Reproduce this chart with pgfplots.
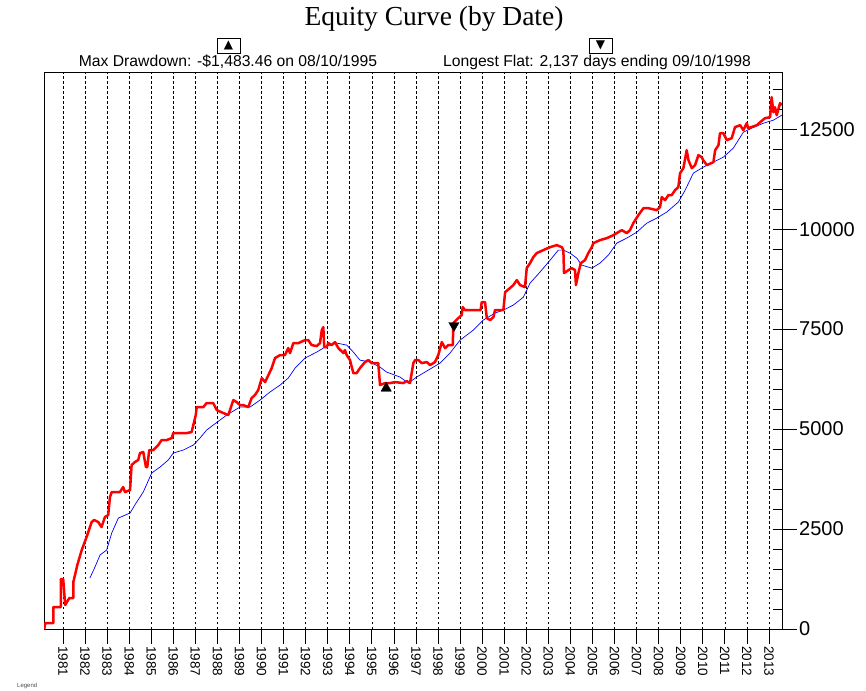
\documentclass[border=0pt]{standalone}
\usepackage{pgfplots}
\pgfplotsset{compat=1.18}
\usepackage{fontspec}
\setmainfont{Liberation Sans}
\newfontfamily\timesfont{Liberation Serif}
\newfontfamily\dejavu{DejaVu Sans}
\begin{document}
\begin{tikzpicture}[x=1pt,y=1pt]
\useasboundingbox (0,0) rectangle (866,690);
\begin{axis}[
  at={(44pt,61pt)}, anchor=south west,
  scale only axis, width=738pt, height=557pt,
  xmin=1980.14, xmax=2013.59, ymin=0, ymax=13930,
  axis line style={black, line width=0.9pt},
  xtick={1981,...,2013},
  xtick pos=bottom,
  x tick label style={rotate=-90, anchor=west, font=\fontsize{13.5}{13.5}\selectfont, inner sep=2pt},
  xticklabel={\pgfmathprintnumber[fixed,precision=0,set thousands separator={}]{\tick}},
  tick align=outside,
  major tick length=15pt,
  tick style={black, line width=0.7pt},
  xmajorgrids,
  major grid style={black, dashed, line width=0.6pt, dash pattern=on 2.5pt off 2.5pt},
  ytick={0,2500,...,12500},
  scaled y ticks=false,
  ytick pos=right,
  yticklabel pos=right,
  y tick label style={font=\fontsize{20}{20}\selectfont, inner sep=2pt},
  yticklabel={\pgfmathprintnumber[fixed,precision=0,set thousands separator={}]{\tick}},
  extra y ticks={0,500,...,13500},
  extra y tick labels={},
  extra y tick style={tick align=inside, major tick length=9pt, grid=none},
  /pgf/number format/assume math mode=true,
  clip=true,
]
% Blue: moving average
\addplot[blue, line width=0.7pt] coordinates {
(1982.22,1275)(1982.45,1550)(1982.68,1850)(1982.98,1975)(1983.21,2400)(1983.51,2775)
(1984.04,2900)(1984.34,3175)(1984.64,3425)(1985.02,3900)(1985.40,4050)(1985.77,4225)
(1986.00,4400)(1986.45,4475)(1986.91,4600)(1987.21,4775)(1987.51,4975)(1987.81,5100)
(1988.42,5350)(1989.02,5550)(1989.48,5550)(1989.93,5725)(1990.38,5925)(1990.84,6100)
(1991.21,6275)(1991.52,6525)(1991.97,6775)(1992.50,6925)(1992.95,7075)(1993.41,7150)
(1993.86,7100)(1994.16,6925)(1994.46,6725)(1994.92,6675)(1995.37,6550)(1995.67,6425)
(1996.28,6300)(1996.65,6150)(1997.03,6300)(1997.56,6475)(1998.09,6650)(1998.54,6900)
(1999.00,7225)(1999.60,7475)(2000.05,7725)(2000.58,7900)(2000.96,7975)(2001.41,8100)
(2001.87,8300)(2002.17,8650)(2002.62,8925)(2003.08,9225)(2003.45,9475)(2003.68,9475)
(2003.98,9400)(2004.29,9275)(2004.51,9100)(2004.97,9025)(2005.34,9150)(2005.72,9350)
(2006.10,9650)(2006.55,9775)(2007.01,9925)(2007.46,10150)(2007.91,10275)(2008.36,10425)
(2008.89,10675)(2009.20,10975)(2009.57,11400)(2010.02,11550)(2010.48,11675)(2010.93,11800)
(2011.38,12025)(2011.84,12425)(2012.22,12525)(2012.75,12650)(2013.20,12725)(2013.58,12850)
};
% Red: equity curve
\addplot[red, line width=2.5pt, line join=round] coordinates {
(1980.15,0)(1980.20,150)(1980.56,150)(1980.56,550)(1980.90,550)(1980.90,1250)
(1981.01,1250)(1981.10,600)(1981.29,775)(1981.47,775)(1981.47,1175)(1981.65,1600)
(1981.85,1975)(1982.07,2300)(1982.30,2675)(1982.41,2725)(1982.60,2675)(1982.75,2550)
(1982.90,2800)(1983.05,2850)(1983.13,3300)(1983.21,3425)(1983.58,3425)(1983.73,3550)
(1983.81,3425)(1984.04,3475)(1984.11,4100)(1984.26,4175)(1984.41,4225)(1984.49,4400)
(1984.64,4425)(1984.76,4050)(1984.82,4050)(1984.91,4475)(1985.09,4475)(1985.32,4600)
(1985.47,4725)(1985.70,4725)(1985.93,4775)(1986.00,4900)(1986.30,4900)(1986.61,4900)
(1986.83,4925)(1987.02,5350)(1987.06,5550)(1987.36,5550)(1987.51,5650)(1987.81,5650)
(1987.97,5475)(1988.27,5400)(1988.49,5350)(1988.57,5475)(1988.72,5725)(1988.87,5675)
(1989.02,5600)(1989.17,5600)(1989.40,5550)(1989.55,5775)(1989.70,5850)(1989.85,5975)
(1990.01,6275)(1990.16,6175)(1990.31,6350)(1990.46,6525)(1990.61,6775)(1990.84,6850)
(1991.06,6850)(1991.21,7025)(1991.29,6900)(1991.44,7150)(1991.67,7150)(1991.97,7225)
(1992.12,7225)(1992.27,7100)(1992.50,7075)(1992.65,7150)(1992.73,7475)(1992.80,7550)
(1992.84,7050)(1992.95,7050)(1993.03,7150)(1993.18,7100)(1993.33,7175)(1993.48,7025)
(1993.71,6900)(1993.78,6975)(1993.86,6850)(1994.01,6725)(1994.16,6400)(1994.31,6400)
(1994.46,6525)(1994.69,6675)(1994.84,6725)(1994.99,6650)(1995.29,6650)(1995.37,6100)
(1995.60,6150)(1995.82,6150)(1996.05,6175)(1996.43,6150)(1996.58,6200)(1996.73,6150)
(1996.88,6650)(1996.96,6725)(1997.11,6725)(1997.26,6650)(1997.49,6675)(1997.64,6600)
(1997.86,6675)(1998.01,6850)(1998.17,7175)(1998.32,7025)(1998.47,7100)(1998.67,7100)
(1998.69,7650)(1998.92,7775)(1999.07,7850)(1999.12,8050)(1999.22,7975)(1999.75,7975)
(1999.93,7975)(1999.98,8175)(2000.13,8175)(2000.21,7775)(2000.36,7725)(2000.51,7800)
(2000.58,7975)(2000.96,7975)(2001.04,8425)(2001.26,8525)(2001.41,8600)(2001.57,8725)
(2001.72,8600)(2001.94,8550)(2002.02,9025)(2002.17,9150)(2002.32,9300)(2002.47,9400)
(2002.77,9475)(2003.08,9550)(2003.38,9600)(2003.61,9550)(2003.68,9475)(2003.71,8900)
(2003.91,8975)(2004.06,9025)(2004.21,8975)(2004.25,8600)(2004.36,8900)(2004.47,9150)
(2004.66,9225)(2004.81,9400)(2004.97,9550)(2005.04,9650)(2005.34,9725)(2005.65,9775)
(2005.95,9850)(2006.17,9925)(2006.33,9975)(2006.55,9900)(2006.70,9975)(2006.85,10150)
(2007.08,10350)(2007.31,10525)(2007.53,10525)(2007.91,10475)(2008.06,10550)(2008.14,10800)
(2008.29,10725)(2008.44,10850)(2008.59,10850)(2008.74,10975)(2008.89,11050)(2008.97,11400)
(2009.12,11525)(2009.27,11975)(2009.35,11725)(2009.50,11525)(2009.65,11600)(2009.80,11850)
(2009.95,11800)(2010.02,11725)(2010.18,11600)(2010.48,11675)(2010.56,11975)(2010.71,12100)
(2010.78,12400)(2010.93,12400)(2011.09,12225)(2011.31,12275)(2011.46,12550)(2011.69,12600)
(2011.84,12475)(2011.99,12650)(2012.06,12525)(2012.45,12600)(2012.60,12675)(2012.82,12775)
(2013.05,12800)(2013.12,13300)(2013.20,12925)(2013.27,13050)(2013.35,12850)(2013.50,13150)
(2013.58,13100)
};
% Max drawdown marker
\addplot[only marks, mark=triangle*, mark size=6pt, black] coordinates {(1995.65,6020)};
% Longest flat marker
\addplot[only marks, mark=triangle*, mark size=6pt, black, mark options={rotate=180}] coordinates {(1998.72,7590)};
\end{axis}
% Title and annotations
\node[font=\timesfont\fontsize{27.5}{27.5}\selectfont] at (434,671) {Equity Curve (by Date)};
\draw[black, line width=0.6pt] (217,637) rectangle (240,652);
\node[font=\dejavu\fontsize{12}{12}\selectfont, inner sep=0pt] at (228.5,644.5) {▲};
\draw[black, line width=0.6pt] (589,637) rectangle (612,652);
\node[font=\dejavu\fontsize{12}{12}\selectfont, inner sep=0pt] at (600.5,644.5) {▼};
\node[font=\fontsize{15.7}{15.7}\selectfont] at (228,628) {Max Drawdown: -\$1,483.46 on 08/10/1995};
\node[font=\fontsize{15.7}{15.7}\selectfont] at (597,628) {Longest Flat: 2,137 days ending 09/10/1998};
\node[font=\fontsize{6}{6}\selectfont, text=black!70, anchor=south west, inner sep=0pt] at (17,1.5) {Legend};
\end{tikzpicture}
\end{document}
